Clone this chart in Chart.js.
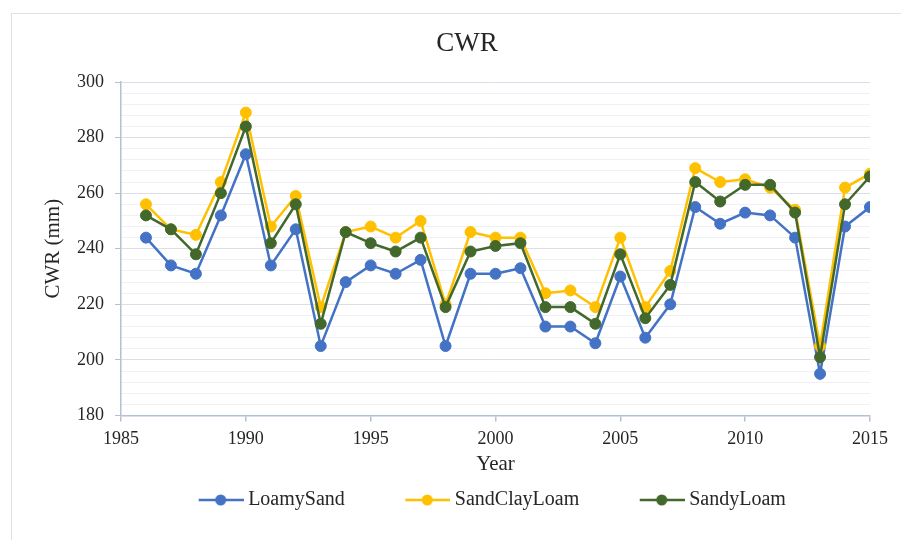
<!DOCTYPE html>
<html>
<head>
<meta charset="utf-8">
<title>CWR</title>
<script src="https://cdn.jsdelivr.net/npm/chart.js@4.4.1/dist/chart.umd.min.js"></script>
<style>
  html, body { margin: 0; padding: 0; background: #fff; }
  #wrap { position: relative; width: 901px; height: 540px; overflow: hidden; }
  #frame {
    position: absolute; left: 11px; top: 13px; width: 1000px; height: 1000px;
    border-left: 1.5px solid #dde2ea; border-top: 1.5px solid #dde2ea;
  }
  #myChart { position: absolute; left: 0; top: 0; }
</style>
</head>
<body>
<div id="wrap">
  <div id="frame"></div>
  <canvas id="myChart" width="901" height="540"></canvas>
</div>
<script>
'use strict';

const years = [1986, 1987, 1988, 1989, 1990, 1991, 1992, 1993, 1994, 1995,
  1996, 1997, 1998, 1999, 2000, 2001, 2002, 2003, 2004, 2005,
  2006, 2007, 2008, 2009, 2010, 2011, 2012, 2013, 2014, 2015];

const loamySand = [244, 234, 231, 252, 274, 234, 247, 205, 228, 234,
  231, 236, 205, 231, 231, 233, 212, 212, 206, 230,
  208, 220, 255, 249, 253, 252, 244, 195, 248, 255];

const sandClayLoam = [256, 247, 245, 264, 289, 248, 259, 219, 246, 248,
  244, 250, 220, 246, 244, 244, 224, 225, 219, 244,
  219, 232, 269, 264, 265, 262, 254, 205, 262, 267];

const sandyLoam = [252, 247, 238, 260, 284, 242, 256, 213, 246, 242,
  239, 244, 219, 239, 241, 242, 219, 219, 213, 238,
  215, 227, 264, 257, 263, 263, 253, 201, 256, 266];

const seriesNames = ['LoamySand', 'SandClayLoam', 'SandyLoam'];
const seriesColors = ['#4472c4', '#ffc000', '#43682b'];

const yMin = 180;
const yMax = 300;
const xMin = 1985;
const xMax = 2015;

const serif = "'Liberation Serif', 'Times New Roman', serif";
const axisColor = '#b4c0d6';
const textColor = '#262626';

// legend marker: a short line with a dot, with empty space in front of it
function legendMarker(color) {
  const c = document.createElement('canvas');
  c.width = 101;
  c.height = 14;
  const g = c.getContext('2d');
  g.strokeStyle = color;
  g.lineWidth = 2.5;
  g.beginPath();
  g.moveTo(56, 7);
  g.lineTo(101, 7);
  g.stroke();
  g.fillStyle = color;
  g.beginPath();
  g.arc(78, 7, 5.5, 0, Math.PI * 2);
  g.fill();
  return c;
}
const markers = seriesColors.map(legendMarker);

function toPoints(values) {
  return values.map((v, i) => ({ x: years[i], y: v }));
}

const allSeries = [loamySand, sandClayLoam, sandyLoam];
const drawOrder = [2, 1, 0];

drawChart();

function drawChart() {
  const ctx = document.getElementById('myChart');

  new Chart(ctx, {
    type: 'line',
    data: {
      datasets: allSeries.map((values, i) => ({
        label: seriesNames[i],
        data: toPoints(values),
        borderColor: seriesColors[i],
        backgroundColor: seriesColors[i],
        borderWidth: 2.5,
        pointRadius: 5.5,
        pointBorderWidth: 1,
        pointBackgroundColor: seriesColors[i],
        pointBorderColor: seriesColors[i],
        tension: 0,
        order: drawOrder[i],
      })),
    },
    options: {
      responsive: false,
      animation: false,
      devicePixelRatio: 1,
      layout: { padding: { left: 33, right: 0, top: 0, bottom: 20 } },
      plugins: {
        tooltip: { enabled: false },
        title: {
          display: true,
          text: 'CWR',
          color: textColor,
          font: { family: serif, size: 27, weight: 'normal' },
          padding: { top: 28, bottom: 21.6 },
        },
        legend: {
          position: 'bottom',
          labels: {
            usePointStyle: true,
            pointStyleWidth: 90,
            padding: 10,
            color: textColor,
            font: { family: serif, size: 20 },
            generateLabels: function (chart) {
              const items = Chart.defaults.plugins.legend.labels.generateLabels(chart);
              items.sort((a, b) => a.datasetIndex - b.datasetIndex);
              items.forEach((item) => {
                item.pointStyle = markers[item.datasetIndex];
              });
              return items;
            },
          },
        },
      },
      scales: {
        x: {
          type: 'linear',
          min: xMin,
          max: xMax,
          ticks: {
            stepSize: 5,
            color: textColor,
            padding: 7,
            font: { family: serif, size: 18 },
            callback: (value) => String(value),
          },
          grid: {
            drawOnChartArea: false,
            tickLength: 6,
            color: axisColor,
            lineWidth: 1.5,
          },
          border: { color: axisColor, width: 1.5 },
          title: {
            display: true,
            text: 'Year',
            color: textColor,
            font: { family: serif, size: 21 },
            padding: { top: 0, bottom: 3 },
          },
          afterFit: function (scale) {
            scale.height = 64.5;
            scale.paddingLeft = 0;
            scale.paddingRight = 31;
          },
        },
        y: {
          min: yMin,
          max: yMax,
          ticks: {
            stepSize: 4,
            autoSkip: false,
            color: textColor,
            padding: 11,
            font: { family: serif, size: 18 },
            callback: (value) => (value % 20 === 0 ? value : ''),
          },
          grid: {
            tickLength: 6,
            lineWidth: 1,
            color: (c) => (c.tick && c.tick.value % 20 === 0 ? '#d9dee7' : '#eef0f4'),
            tickColor: (c) => (c.tick && c.tick.value % 20 === 0 ? axisColor : 'rgba(0,0,0,0)'),
          },
          border: { color: axisColor, width: 1.5 },
          title: {
            display: true,
            text: 'CWR (mm)',
            color: textColor,
            font: { family: serif, size: 21 },
            padding: { top: 7.4, bottom: 0 },
          },
          afterFit: function (scale) {
            scale.width = 88;
          },
        },
      },
    },
  });
}
</script>
</body>
</html>
